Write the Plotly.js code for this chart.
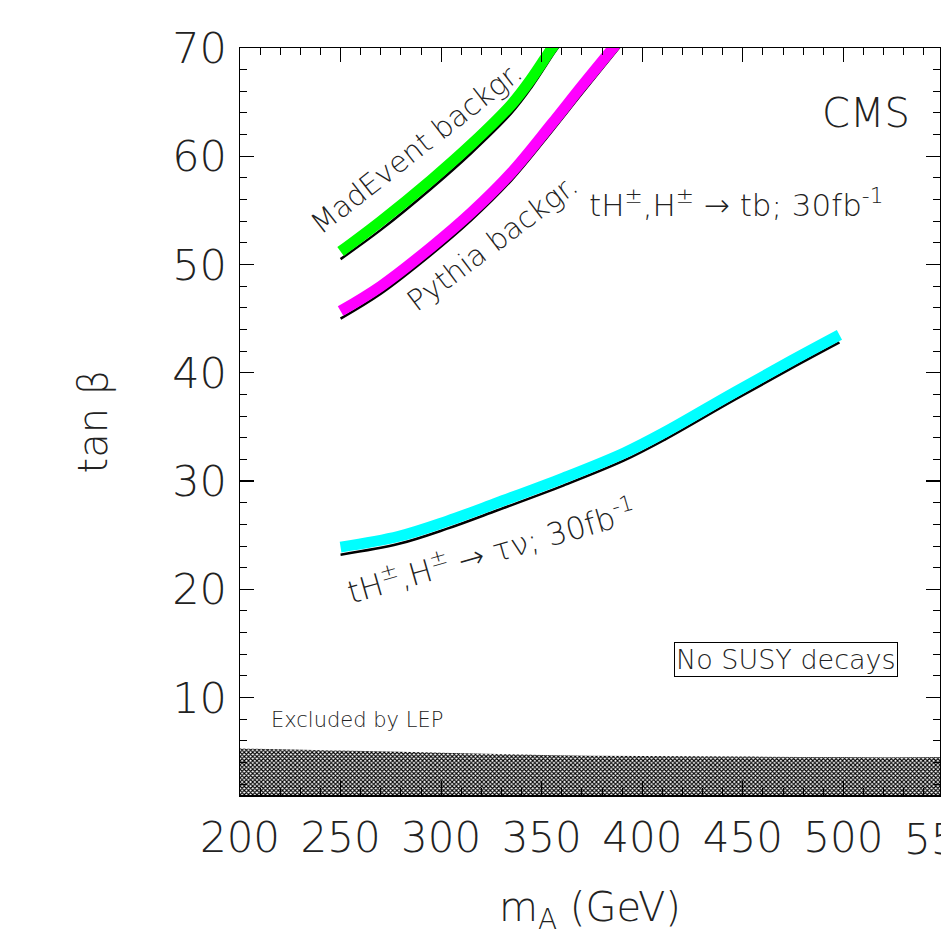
<!DOCTYPE html>
<html>
<head>
<meta charset="utf-8">
<script src="https://cdn.plot.ly/plotly-3.0.1.min.js"></script>
<style>html,body{margin:0;padding:0;background:#fff;}#chart{width:941px;height:936px;}</style>
</head>
<body>
<div id="chart"></div>
<script>
// m_A (GeV) and tan(beta) values
const madX      = [250, 270, 295, 315, 335, 345, 354, 357];
const madY      = [51.2, 54.0, 57.8, 61.1, 64.8, 67.2, 69.7, 70.5];
const madLineX  = [250, 270, 295, 315, 335, 345, 356, 359];
const madLineY  = [50.5, 53.2, 57.0, 60.3, 64.0, 66.4, 69.5, 70.3];

const pyX       = [250, 270, 295, 315, 335, 355, 370, 385, 388];
const pyY       = [45.7, 48.0, 51.6, 54.8, 58.5, 63.0, 66.5, 69.9, 70.6];
const pyLineX   = [250, 270, 295, 315, 335, 355, 370, 387, 390];
const pyLineY   = [45.0, 47.3, 50.9, 54.1, 57.8, 62.3, 65.8, 69.7, 70.4];

const tauX      = [250, 279, 303, 328, 361, 391, 411, 444, 474, 498];
const tauY      = [23.9, 24.9, 26.3, 28.0, 30.3, 32.6, 34.5, 38.0, 41.1, 43.5];
const tauLineX  = [250, 279, 303, 328, 361, 391, 411, 444, 474, 498];
const tauLineY  = [23.2, 24.2, 25.6, 27.3, 29.6, 31.9, 33.8, 37.3, 40.4, 42.8];

const lepX      = [200, 250, 300, 350, 400, 450, 500, 548];
const lepY      = [5.3, 5.1, 4.9, 4.7, 4.6, 4.55, 4.5, 4.5];

const FONT = "'DejaVu Sans', 'Liberation Sans', sans-serif";
const TXT = '#222';
const W = 300;

function curve(x, y, color, width) {
  return {x: x, y: y, type: 'scatter', mode: 'lines',
    line: {color: color, width: width, shape: 'spline', smoothing: 1}, showlegend: false, hoverinfo: 'skip'};
}

const traces = [
  {x: lepX, y: lepY, type: 'scatter', mode: 'lines', fill: 'tozeroy',
   line: {width: 0, color: '#333', shape: 'spline'}, fillcolor: '#fff',
   fillpattern: {shape: 'x', size: 3, solidity: 0.6, fgcolor: '#000', bgcolor: '#fff'},
   hoverinfo: 'skip', showlegend: false},
  curve(madLineX, madLineY, '#000', 2.5),
  curve(madX, madY, '#00ff00', 11),
  curve(pyLineX, pyLineY, '#000', 2.5),
  curve(pyX, pyY, '#ff00ff', 11),
  curve(tauLineX, tauLineY, '#000', 2.5),
  curve(tauX, tauY, '#00ffff', 11)
];

function ann(text, x, y, size, angle, extra) {
  return Object.assign({text: text, x: x, y: y, xref: 'x', yref: 'y', showarrow: false,
    textangle: angle || 0, xanchor: 'center', yanchor: 'middle',
    font: {family: FONT, size: size, color: TXT, weight: W}}, extra || {});
}

const layout = {
  width: 941, height: 936,
  margin: {l: 240, r: 1, t: 48, b: 141},
  paper_bgcolor: '#fff', plot_bgcolor: '#fff',
  showlegend: false,
  font: {family: FONT, color: TXT, weight: W},
  xaxis: {
    range: [200, 548], tick0: 200, dtick: 50, ticks: 'inside', ticklen: 14, tickwidth: 1.2, tickcolor: '#000',
    minor: {dtick: 10, ticks: 'inside', ticklen: 7, tickwidth: 1, tickcolor: '#000'},
    showline: true, linecolor: '#000', linewidth: 1.5, mirror: 'allticks',
    showgrid: false, zeroline: false, ticklabelstandoff: 5,
    tickfont: {family: FONT, size: 42, color: TXT, weight: W},
    title: {text: 'm<sub>A</sub> (GeV)', standoff: 54, font: {family: FONT, size: 40, color: TXT, weight: W}}
  },
  yaxis: {
    range: [1, 70], tick0: 0, dtick: 10, ticks: 'inside', ticklen: 14, tickwidth: 1.2, tickcolor: '#000',
    minor: {dtick: 2, ticks: 'inside', ticklen: 7, tickwidth: 1, tickcolor: '#000'},
    showline: true, linecolor: '#000', linewidth: 1.5, mirror: 'allticks',
    showgrid: false, zeroline: false, ticklabelstandoff: 3,
    tickfont: {family: FONT, size: 43, color: TXT, weight: W},
    title: {text: 'tan β', standoff: 52, font: {family: FONT, size: 40, color: TXT, weight: W}}
  },
  annotations: [
    ann('CMS', 511.4, 64.0, 40, 0),
    ann('tH<sup>±</sup>,H<sup>±</sup> → tb; 30fb<sup>-1</sup>', 446.8, 55.7, 31, 0),
    ann('MadEvent backgr.', 287.6, 60.8, 29, -38),
    ann('Pythia backgr.', 325.5, 52.0, 29, -37),
    ann('tH<sup>±</sup>,H<sup>±</sup> → τν; 30fb<sup>-1</sup>', 324.9, 23.6, 31, -16),
    ann('No SUSY decays', 471.6, 13.5, 27, 0, {bordercolor: '#000', borderwidth: 1, borderpad: 1}),
    ann('Excluded by LEP', 258.2, 7.9, 21, 0),
    {text: '550', xref: 'paper', yref: 'paper', x: (550 - 200) / 348, y: 0, yshift: -44,
     xanchor: 'center', yanchor: 'middle', showarrow: false,
     font: {family: FONT, size: 42, color: TXT, weight: W}}
  ]
};

Plotly.newPlot('chart', traces, layout, {staticPlot: true, displayModeBar: false});
</script>
</body>
</html>
